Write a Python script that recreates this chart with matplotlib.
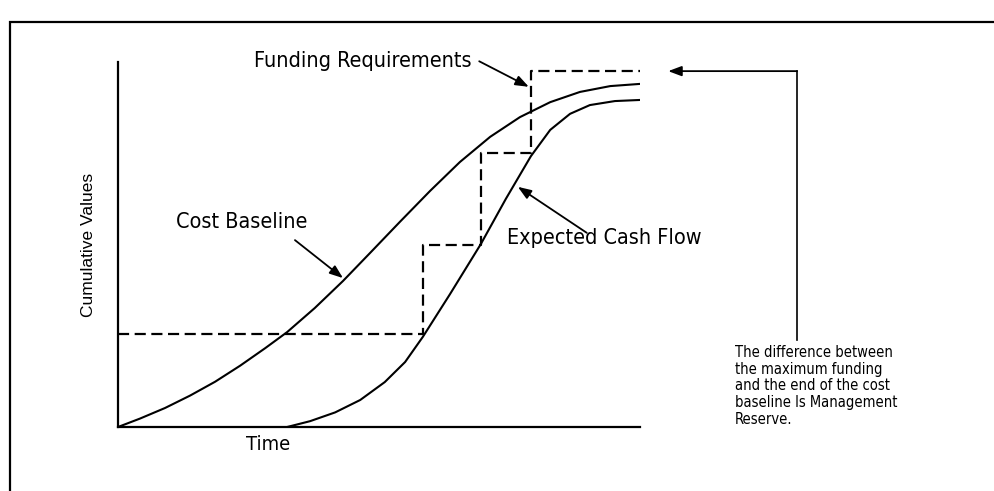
import matplotlib
matplotlib.use("Agg")
import matplotlib.pyplot as plt
from matplotlib.patches import Rectangle

# cumulative cost baseline (time in % of schedule, value in % of scale)
baseline_t = [0, 4.2, 9.0, 13.8, 18.6, 23.4, 28.2, 32.4, 37.7, 43.1, 48.3,
              54.0, 59.8, 65.5, 71.3, 77.0, 82.8, 88.5, 94.3, 100]
baseline_v = [0, 2.3, 5.2, 8.6, 12.4, 16.8, 21.6, 26.0, 32.6, 40.0, 47.7,
              56.2, 64.7, 72.6, 79.5, 84.9, 89.0, 91.8, 93.4, 94.0]

# expected cash flow lags the baseline
cash_t = [32.4, 36.8, 41.6, 46.4, 51.1, 55.0, 58.4, 63.6, 69.5, 74.3, 79.1,
          82.8, 86.6, 90.4, 95.2, 100]
cash_v = [0, 1.6, 4.0, 7.4, 12.3, 17.8, 24.7, 36.4, 50.1, 62.5, 74.2,
          81.4, 85.8, 88.2, 89.3, 89.6]

# funding requirements, stepped
funding_t = [0, 58.4, 69.5, 79.1, 100]
funding_v = [25.5, 49.9, 75.1, 97.5, 97.5]

LABEL = dict(family="DejaVu Sans", fontstretch="condensed")

fig = plt.figure(figsize=(9.95, 4.91), dpi=100)
ax = fig.add_axes([118 / 995, 64 / 491, 522 / 995, 365 / 491])
ax.set_xlim(0, 100)
ax.set_ylim(0, 100)

ax.plot(baseline_t, baseline_v, color="black", lw=1.5)
ax.plot(cash_t, cash_v, color="black", lw=1.5)
ax.step(funding_t, funding_v, where="post", color="black", lw=1.6,
        linestyle=(0, (5, 2.5)))

for side in ("top", "right"):
    ax.spines[side].set_visible(False)
for side in ("left", "bottom"):
    ax.spines[side].set_linewidth(1.6)
ax.set_xticks([])
ax.set_yticks([])
ax.set_ylabel("Cumulative Values", family="Liberation Sans", fontsize=12.5,
              labelpad=16)
ax.text(28.7, -4.7, "Time", fontsize=14.5, ha="center", va="center", **LABEL)

arrow = dict(arrowstyle="-|>,head_length=0.8,head_width=0.3", color="black",
             lw=1.3, shrinkA=0, shrinkB=0)

ax.annotate("", xy=(78.7, 93.2), xytext=(69.2, 100.2), arrowprops=arrow,
            annotation_clip=False)
ax.text(67.8, 100.2, "Funding Requirements", fontsize=15.5, ha="right",
        va="center", **LABEL)

ax.annotate("", xy=(43.1, 40.8), xytext=(33.9, 51.2), arrowprops=arrow)
ax.text(23.6, 56.2, "Cost Baseline", fontsize=15.5, ha="center", va="center",
        **LABEL)

ax.annotate("", xy=(76.6, 65.8), xytext=(89.8, 53.2), arrowprops=arrow)
ax.text(74.5, 49.0, "Expected Cash Flow", fontsize=15.5, ha="left",
        va="bottom", **LABEL)

# management reserve callout, pointing at the top funding level
top = funding_v[-1]
ax.plot([130.1, 130.1], [23.8, top], color="black", lw=1.2, clip_on=False)
ax.annotate("", xy=(105.4, top), xytext=(130.1, top), arrowprops=arrow,
            annotation_clip=False)
ax.text(118.2, 22.5,
        "The difference between\nthe maximum funding\nand the end of the cost\n"
        "baseline Is Management\nReserve.",
        fontsize=10.5, ha="left", va="top", linespacing=1.15, **LABEL)

fig.patches.append(Rectangle((10 / 995, -0.2), 1.2, 0.2 + 469 / 491,
                             transform=fig.transFigure, fill=False,
                             edgecolor="black", lw=1.6))

fig.savefig("out.png", dpi=100)
